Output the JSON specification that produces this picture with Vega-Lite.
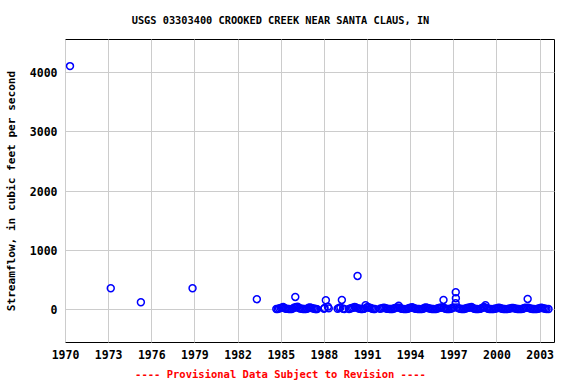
{
  "$schema": "https://vega.github.io/schema/vega-lite/v6.json",
  "autosize": "none",
  "width": 489,
  "height": 303,
  "padding": {"left": 65, "top": 39, "right": 22, "bottom": 42},
  "background": "white",
  "title": {
    "text": "USGS 03303400 CROOKED CREEK NEAR SANTA CLAUS, IN",
    "font": "DejaVu Sans Mono",
    "fontSize": 10.3,
    "fontWeight": "bold",
    "color": "black",
    "anchor": "middle",
    "frame": "group",
    "baseline": "alphabetic",
    "offset": 5,
    "dx": -29
  },
  "config": {
    "view": {"stroke": "black", "strokeWidth": 1},
    "axis": {
      "labelFont": "DejaVu Sans Mono",
      "labelFontWeight": "bold",
      "labelColor": "black",
      "titleFont": "DejaVu Sans Mono",
      "titleFontWeight": "bold",
      "titleColor": "black",
      "gridColor": "#cccccc",
      "gridWidth": 1,
      "gridOpacity": 1,
      "domain": false,
      "ticks": false,
      "tickSize": 0
    }
  },
  "data": {
    "values": [
      {"date": "1970-05-08", "flow": 4100},
      {"date": "1973-03-08", "flow": 355},
      {"date": "1975-04-12", "flow": 118},
      {"date": "1978-11-14", "flow": 355},
      {"date": "1983-05-05", "flow": 170},
      {"date": "1984-09-10", "flow": 5},
      {"date": "1984-10-15", "flow": 3},
      {"date": "1984-11-20", "flow": 12},
      {"date": "1984-12-28", "flow": 20},
      {"date": "1985-01-30", "flow": 25},
      {"date": "1985-03-05", "flow": 40},
      {"date": "1985-04-10", "flow": 18},
      {"date": "1985-05-15", "flow": 10},
      {"date": "1985-06-20", "flow": 6},
      {"date": "1985-07-25", "flow": 3},
      {"date": "1985-08-30", "flow": 2},
      {"date": "1985-10-05", "flow": 4},
      {"date": "1985-11-10", "flow": 15},
      {"date": "1985-12-15", "flow": 30},
      {"date": "1986-01-05", "flow": 208},
      {"date": "1986-01-25", "flow": 35},
      {"date": "1986-03-01", "flow": 45},
      {"date": "1986-04-05", "flow": 20},
      {"date": "1986-05-10", "flow": 12},
      {"date": "1986-06-15", "flow": 8},
      {"date": "1986-07-20", "flow": 5},
      {"date": "1986-08-25", "flow": 3},
      {"date": "1986-09-30", "flow": 2},
      {"date": "1986-11-05", "flow": 10},
      {"date": "1986-12-10", "flow": 25},
      {"date": "1987-01-15", "flow": 30},
      {"date": "1987-02-20", "flow": 20},
      {"date": "1987-03-25", "flow": 15},
      {"date": "1987-04-30", "flow": 8},
      {"date": "1987-05-25", "flow": 5},
      {"date": "1987-06-20", "flow": 3},
      {"date": "1987-07-15", "flow": 2},
      {"date": "1988-01-05", "flow": 10},
      {"date": "1988-01-20", "flow": 20},
      {"date": "1988-02-20", "flow": 152},
      {"date": "1988-04-12", "flow": 44},
      {"date": "1988-05-05", "flow": 15},
      {"date": "1988-12-15", "flow": 8},
      {"date": "1989-01-20", "flow": 20},
      {"date": "1989-02-25", "flow": 30},
      {"date": "1989-04-02", "flow": 157},
      {"date": "1989-05-01", "flow": 10},
      {"date": "1989-06-05", "flow": 5},
      {"date": "1989-10-01", "flow": 5},
      {"date": "1989-11-05", "flow": 12},
      {"date": "1989-12-10", "flow": 20},
      {"date": "1990-01-15", "flow": 25},
      {"date": "1990-02-20", "flow": 40},
      {"date": "1990-03-25", "flow": 30},
      {"date": "1990-05-05", "flow": 562},
      {"date": "1990-05-20", "flow": 15},
      {"date": "1990-06-25", "flow": 8},
      {"date": "1990-08-01", "flow": 4},
      {"date": "1990-09-05", "flow": 3},
      {"date": "1990-10-10", "flow": 6},
      {"date": "1990-11-25", "flow": 68},
      {"date": "1990-12-20", "flow": 30},
      {"date": "1991-01-25", "flow": 40},
      {"date": "1991-03-01", "flow": 25},
      {"date": "1991-04-05", "flow": 20},
      {"date": "1991-05-10", "flow": 10},
      {"date": "1991-06-15", "flow": 5},
      {"date": "1991-07-20", "flow": 3},
      {"date": "1991-11-25", "flow": 8},
      {"date": "1992-01-01", "flow": 15},
      {"date": "1992-02-05", "flow": 20},
      {"date": "1992-03-12", "flow": 25},
      {"date": "1992-04-15", "flow": 18},
      {"date": "1992-05-20", "flow": 10},
      {"date": "1992-06-25", "flow": 6},
      {"date": "1992-07-30", "flow": 4},
      {"date": "1992-09-05", "flow": 3},
      {"date": "1992-10-10", "flow": 5},
      {"date": "1992-11-15", "flow": 12},
      {"date": "1992-12-20", "flow": 20},
      {"date": "1993-01-25", "flow": 30},
      {"date": "1993-03-15", "flow": 61},
      {"date": "1993-04-05", "flow": 25},
      {"date": "1993-05-10", "flow": 12},
      {"date": "1993-06-15", "flow": 6},
      {"date": "1993-07-20", "flow": 3},
      {"date": "1993-08-25", "flow": 2},
      {"date": "1993-09-30", "flow": 4},
      {"date": "1993-11-05", "flow": 10},
      {"date": "1993-12-10", "flow": 20},
      {"date": "1994-01-15", "flow": 25},
      {"date": "1994-02-20", "flow": 35},
      {"date": "1994-03-25", "flow": 20},
      {"date": "1994-04-30", "flow": 12},
      {"date": "1994-06-05", "flow": 6},
      {"date": "1994-07-10", "flow": 4},
      {"date": "1994-08-15", "flow": 3},
      {"date": "1994-09-20", "flow": 2},
      {"date": "1994-10-25", "flow": 5},
      {"date": "1994-11-30", "flow": 10},
      {"date": "1995-01-05", "flow": 25},
      {"date": "1995-02-10", "flow": 30},
      {"date": "1995-03-20", "flow": 22},
      {"date": "1995-04-25", "flow": 15},
      {"date": "1995-05-30", "flow": 8},
      {"date": "1995-07-05", "flow": 4},
      {"date": "1995-08-10", "flow": 3},
      {"date": "1995-09-15", "flow": 2},
      {"date": "1995-10-20", "flow": 5},
      {"date": "1995-11-25", "flow": 12},
      {"date": "1995-12-30", "flow": 20},
      {"date": "1996-02-05", "flow": 25},
      {"date": "1996-03-10", "flow": 30},
      {"date": "1996-04-26", "flow": 157},
      {"date": "1996-05-05", "flow": 25},
      {"date": "1996-06-10", "flow": 10},
      {"date": "1996-07-15", "flow": 5},
      {"date": "1996-08-20", "flow": 3},
      {"date": "1996-09-25", "flow": 4},
      {"date": "1996-10-30", "flow": 8},
      {"date": "1996-12-05", "flow": 20},
      {"date": "1997-01-10", "flow": 30},
      {"date": "1997-03-01", "flow": 100},
      {"date": "1997-03-03", "flow": 287},
      {"date": "1997-03-06", "flow": 186},
      {"date": "1997-04-10", "flow": 30},
      {"date": "1997-05-15", "flow": 15},
      {"date": "1997-06-20", "flow": 8},
      {"date": "1997-07-25", "flow": 4},
      {"date": "1997-08-30", "flow": 3},
      {"date": "1997-10-05", "flow": 5},
      {"date": "1997-11-10", "flow": 12},
      {"date": "1997-12-15", "flow": 20},
      {"date": "1998-01-20", "flow": 25},
      {"date": "1998-02-25", "flow": 30},
      {"date": "1998-04-08", "flow": 39},
      {"date": "1998-05-10", "flow": 20},
      {"date": "1998-06-15", "flow": 10},
      {"date": "1998-07-20", "flow": 5},
      {"date": "1998-08-25", "flow": 3},
      {"date": "1998-09-30", "flow": 2},
      {"date": "1998-11-05", "flow": 6},
      {"date": "1998-12-10", "flow": 15},
      {"date": "1999-01-15", "flow": 25},
      {"date": "1999-02-20", "flow": 40},
      {"date": "1999-03-28", "flow": 67},
      {"date": "1999-04-25", "flow": 20},
      {"date": "1999-05-30", "flow": 10},
      {"date": "1999-07-05", "flow": 5},
      {"date": "1999-08-10", "flow": 3},
      {"date": "1999-09-15", "flow": 2},
      {"date": "1999-10-20", "flow": 4},
      {"date": "1999-11-25", "flow": 8},
      {"date": "1999-12-30", "flow": 15},
      {"date": "2000-02-05", "flow": 20},
      {"date": "2000-03-10", "flow": 25},
      {"date": "2000-04-15", "flow": 18},
      {"date": "2000-05-20", "flow": 10},
      {"date": "2000-06-25", "flow": 5},
      {"date": "2000-07-30", "flow": 3},
      {"date": "2000-09-05", "flow": 2},
      {"date": "2000-10-10", "flow": 4},
      {"date": "2000-11-15", "flow": 8},
      {"date": "2000-12-20", "flow": 15},
      {"date": "2001-01-25", "flow": 20},
      {"date": "2001-03-01", "flow": 22},
      {"date": "2001-04-05", "flow": 15},
      {"date": "2001-05-10", "flow": 10},
      {"date": "2001-06-15", "flow": 5},
      {"date": "2001-07-20", "flow": 3},
      {"date": "2001-08-25", "flow": 2},
      {"date": "2001-09-30", "flow": 4},
      {"date": "2001-11-05", "flow": 10},
      {"date": "2001-12-10", "flow": 20},
      {"date": "2002-01-15", "flow": 25},
      {"date": "2002-03-03", "flow": 174},
      {"date": "2002-03-20", "flow": 25},
      {"date": "2002-04-25", "flow": 15},
      {"date": "2002-05-30", "flow": 8},
      {"date": "2002-07-05", "flow": 4},
      {"date": "2002-08-10", "flow": 3},
      {"date": "2002-09-15", "flow": 2},
      {"date": "2002-10-20", "flow": 5},
      {"date": "2002-11-25", "flow": 10},
      {"date": "2002-12-30", "flow": 18},
      {"date": "2003-02-05", "flow": 25},
      {"date": "2003-03-10", "flow": 20},
      {"date": "2003-04-15", "flow": 15},
      {"date": "2003-05-20", "flow": 8},
      {"date": "2003-06-25", "flow": 4},
      {"date": "2003-08-15", "flow": 3}
    ]
  },
  "mark": {"type": "point", "shape": "circle", "filled": false, "color": "#0000ff", "size": 48, "strokeWidth": 1.5, "opacity": 1, "clip": true},
  "encoding": {
    "x": {
      "field": "date",
      "type": "temporal",
      "scale": {
        "type": "utc",
        "domain": [
          {"year": 1970, "month": 1, "date": 1, "utc": true},
          {"year": 2004, "month": 1, "date": 1, "utc": true}
        ],
        "nice": false
      },
      "axis": {
        "values": [
          {"year": 1970, "month": 1, "date": 1, "utc": true},
          {"year": 1973, "month": 1, "date": 1, "utc": true},
          {"year": 1976, "month": 1, "date": 1, "utc": true},
          {"year": 1979, "month": 1, "date": 1, "utc": true},
          {"year": 1982, "month": 1, "date": 1, "utc": true},
          {"year": 1985, "month": 1, "date": 1, "utc": true},
          {"year": 1988, "month": 1, "date": 1, "utc": true},
          {"year": 1991, "month": 1, "date": 1, "utc": true},
          {"year": 1994, "month": 1, "date": 1, "utc": true},
          {"year": 1997, "month": 1, "date": 1, "utc": true},
          {"year": 2000, "month": 1, "date": 1, "utc": true},
          {"year": 2003, "month": 1, "date": 1, "utc": true}
        ],
        "format": "%Y",
        "labelFontSize": 11.5,
        "labelPadding": 7,
        "labelFlush": false,
        "labelOverlap": false,
        "title": "---- Provisional Data Subject to Revision ----",
        "titleColor": "#ff0000",
        "titleFontSize": 10.5,
        "titleX": 215,
        "titleY": 32,
        "titleBaseline": "middle",
        "titleAnchor": null
      }
    },
    "y": {
      "field": "flow",
      "type": "quantitative",
      "scale": {"domain": [-552, 4557], "nice": false, "zero": false},
      "axis": {
        "values": [0, 1000, 2000, 3000, 4000],
        "format": "d",
        "labelFontSize": 11.5,
        "labelPadding": 8,
        "labelOffset": 1.5,
        "labelFlush": false,
        "title": "Streamflow, in cubic feet per second",
        "titleFontSize": 11.1,
        "titleX": -54,
        "titleY": 151.5,
        "titleAngle": -90,
        "titleAlign": "center",
        "titleBaseline": "middle"
      }
    }
  }
}
